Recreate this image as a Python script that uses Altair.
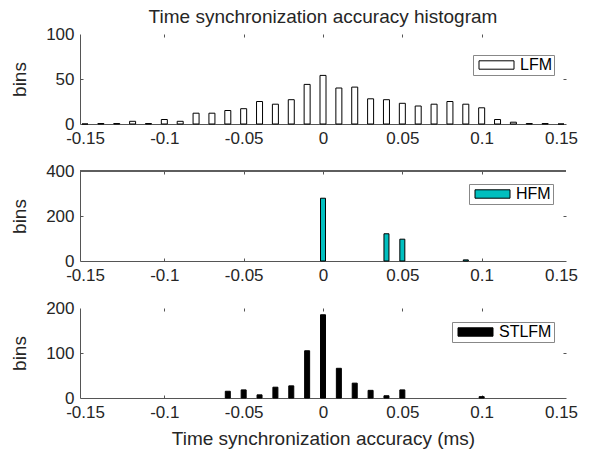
import altair as alt
import pandas as pd

# ---- data ----
x_ticks = [-0.15, -0.1, -0.05, 0, 0.05, 0.1, 0.15]
inner_x_ticks = [-0.1, -0.05, 0, 0.05, 0.1]

lfm_x = [-0.15, -0.14, -0.13, -0.12, -0.11, -0.10, -0.09, -0.08, -0.07, -0.06,
         -0.05, -0.04, -0.03, -0.02, -0.01, 0.0, 0.01, 0.02, 0.03, 0.04,
         0.05, 0.06, 0.07, 0.08, 0.09, 0.10, 0.11, 0.12, 0.13, 0.14, 0.15]
lfm_bins = [0, 0.5, 0.5, 3, 0.5, 5, 3, 12, 12, 15,
            17, 25, 22, 27, 44, 54, 40, 41, 28, 27,
            23, 20, 22, 25, 22, 18, 5, 2, 0.5, 0.5, 0]

hfm_x = [0.0, 0.04, 0.05, 0.09]
hfm_bins = [279, 121, 97, 5]

stlfm_x = [-0.06, -0.05, -0.04, -0.03, -0.02, -0.01, 0.0, 0.01, 0.02, 0.03, 0.04, 0.05, 0.10]
stlfm_bins = [15, 18, 7, 24, 27, 105, 185, 66, 33, 17, 5, 18, 3]

W, H = 486, 90
AX = "#555555"
LBL = "#262626"
FONT = "Liberation Sans"
FS = 17
TFS = 19


def panel(xs, ys, name, ymax, yticks, fill, bar_size, stroke, lx, ly,
          xtitle=None, top_line=False, title=None):
    df = pd.DataFrame({"x": xs, "bins": ys, "series": name})
    xscale = alt.Scale(domain=[-0.15, 0.15], nice=False, zero=False)
    yscale = alt.Scale(domain=[0, ymax], nice=False)
    base = alt.Chart(df)

    xaxis_kw = dict(values=x_ticks, labelExpr="'' + datum.value", ticks=False, tickSize=0,
                    domainColor=AX, labelFontSize=FS, labelColor=LBL, labelFont=FONT,
                    labelPadding=6, grid=False, labelFlush=False)
    if xtitle:
        xaxis_kw.update(title=xtitle, titleFontSize=TFS, titleFont=FONT, titleColor=LBL,
                        titleFontWeight="normal", titlePadding=9)
    else:
        xaxis_kw.update(title=None)

    bars = base.mark_bar(size=bar_size, stroke=stroke, strokeWidth=1).encode(
        x=alt.X("x:Q", scale=xscale, axis=alt.Axis(**xaxis_kw)),
        y=alt.Y("bins:Q", scale=yscale, axis=alt.Axis(
            values=yticks, ticks=False, tickSize=0, domainColor=AX, labelFontSize=FS,
            labelColor=LBL, labelFont=FONT, labelPadding=6, grid=False, title="bins",
            titleFontSize=TFS, titleFont=FONT, titleColor=LBL, titleFontWeight="normal",
            titlePadding=16)),
        color=alt.Color("series:N", scale=alt.Scale(domain=[name], range=[fill]),
                        legend=alt.Legend(
                            orient="none", legendX=lx, legendY=ly, title=None,
                            symbolType="M-1,-1.05H7.75V1.05H-1Z", symbolSize=64,
                            symbolStrokeColor="black", symbolStrokeWidth=1,
                            labelFontSize=16, labelFont=FONT, labelColor="black",
                            labelOffset=29, padding=2, strokeColor="#888888",
                            fillColor="white")),
    )

    ticks_tr = base.mark_bar(opacity=0).encode(
        x=alt.X("x:Q", scale=xscale, axis=alt.Axis(
            orient="top", values=inner_x_ticks, labels=False, domain=False, tickSize=3,
            tickColor=AX, offset=-3, title=None, grid=False)),
        y=alt.Y("bins:Q", scale=yscale, axis=alt.Axis(
            orient="right", values=[yticks[1]], labels=False, domain=False, tickSize=3,
            tickColor=AX, offset=-3, title=None, grid=False)),
    )
    ticks_bl = base.mark_bar(opacity=0).encode(
        x=alt.X("x:Q", scale=xscale, axis=alt.Axis(
            orient="bottom", values=inner_x_ticks, labels=False, domain=False, tickSize=3,
            tickColor=AX, offset=-3, title=None, grid=False)),
        y=alt.Y("bins:Q", scale=yscale, axis=alt.Axis(
            orient="left", values=[yticks[1]], labels=False, domain=False, tickSize=3,
            tickColor=AX, offset=-3, title=None, grid=False)),
    )
    layers = [bars, ticks_tr, ticks_bl]
    if top_line:
        layers.append(base.mark_rule(color=AX, strokeWidth=1).encode(
            x=alt.value(0), x2=alt.value(W), y=alt.value(0)))
    ch = alt.layer(*layers).resolve_axis(x="independent", y="independent").properties(
        width=W, height=H)
    if title:
        ch = ch.properties(title=alt.TitleParams(title, fontSize=TFS, font=FONT,
                                                 fontWeight="normal", color=LBL, offset=-2))
    return ch


p1 = panel(lfm_x, lfm_bins, "LFM", 100, [0, 50, 100], "white", 6, "black", 393, 21,
           title="Time synchronization accuracy histogram")
p2 = panel(hfm_x, hfm_bins, "HFM", 400, [0, 200, 400], "#00BFBF", 5, "black", 389, 13,
           top_line=True)
p3 = panel(stlfm_x, stlfm_bins, "STLFM", 200, [0, 100, 200], "black", 5, "black", 372, 14,
           xtitle="Time synchronization accuracy (ms)")

chart = alt.vconcat(p1, p2, p3, spacing=47, bounds="flush").resolve_legend(
    color="independent").resolve_scale(color="independent").properties(
    padding={"left": 2, "top": 0, "right": 5, "bottom": 5}
).configure_view(stroke=None)

chart.save("out.html", embed_options={"renderer": "svg", "actions": False})
